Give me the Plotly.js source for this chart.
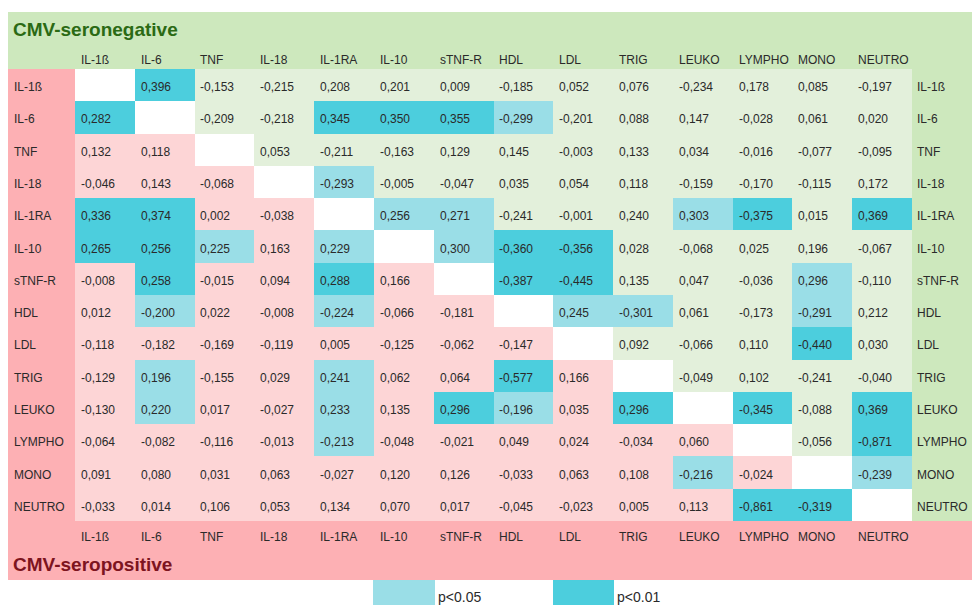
<!DOCTYPE html>
<html>
<head>
<meta charset="utf-8">
<script src="https://cdn.plot.ly/plotly-3.0.1.min.js"></script>
<style>html,body{margin:0;padding:0;background:#fff;}#chart{width:972px;height:605px;}</style>
</head>
<body>
<div id="chart"></div>
<script>
// ---- DATA ----
const labels = ["IL-1ß","IL-6","TNF","IL-18","IL-1RA","IL-10","sTNF-R","HDL","LDL","TRIG","LEUKO","LYMPHO","MONO","NEUTRO"];
// Correlation matrix: upper triangle = CMV-seronegative, lower triangle = CMV-seropositive (diagonal null)
const rowIL1b   = [null, 0.396,-0.153,-0.215, 0.208, 0.201, 0.009,-0.185, 0.052, 0.076,-0.234, 0.178, 0.085,-0.197];
const rowIL6    = [0.282, null,-0.209,-0.218, 0.345, 0.350, 0.355,-0.299,-0.201, 0.088, 0.147,-0.028, 0.061, 0.020];
const rowTNF    = [0.132, 0.118, null, 0.053,-0.211,-0.163, 0.129, 0.145,-0.003, 0.133, 0.034,-0.016,-0.077,-0.095];
const rowIL18   = [-0.046, 0.143,-0.068, null,-0.293,-0.005,-0.047, 0.035, 0.054, 0.118,-0.159,-0.170,-0.115, 0.172];
const rowIL1RA  = [0.336, 0.374, 0.002,-0.038, null, 0.256, 0.271,-0.241,-0.001, 0.240, 0.303,-0.375, 0.015, 0.369];
const rowIL10   = [0.265, 0.256, 0.225, 0.163, 0.229, null, 0.300,-0.360,-0.356, 0.028,-0.068, 0.025, 0.196,-0.067];
const rowSTNFR  = [-0.008, 0.258,-0.015, 0.094, 0.288, 0.166, null,-0.387,-0.445, 0.135, 0.047,-0.036, 0.296,-0.110];
const rowHDL    = [0.012,-0.200, 0.022,-0.008,-0.224,-0.066,-0.181, null, 0.245,-0.301, 0.061,-0.173,-0.291, 0.212];
const rowLDL    = [-0.118,-0.182,-0.169,-0.119, 0.005,-0.125,-0.062,-0.147, null, 0.092,-0.066, 0.110,-0.440, 0.030];
const rowTRIG   = [-0.129, 0.196,-0.155, 0.029, 0.241, 0.062, 0.064,-0.577, 0.166, null,-0.049, 0.102,-0.241,-0.040];
const rowLEUKO  = [-0.130, 0.220, 0.017,-0.027, 0.233, 0.135, 0.296,-0.196, 0.035, 0.296, null,-0.345,-0.088, 0.369];
const rowLYMPHO = [-0.064,-0.082,-0.116,-0.013,-0.213,-0.048,-0.021, 0.049, 0.024,-0.034, 0.060, null,-0.056,-0.871];
const rowMONO   = [0.091, 0.080, 0.031, 0.063,-0.027, 0.120, 0.126,-0.033, 0.063, 0.108,-0.216,-0.024, null,-0.239];
const rowNEUTRO = [-0.033, 0.014, 0.106, 0.053, 0.134, 0.070, 0.017,-0.045,-0.023, 0.005, 0.113,-0.861,-0.319, null];
const corr = [rowIL1b,rowIL6,rowTNF,rowIL18,rowIL1RA,rowIL10,rowSTNFR,rowHDL,rowLDL,rowTRIG,rowLEUKO,rowLYMPHO,rowMONO,rowNEUTRO];
// Significance: "0" none, "1" p<0.05, "2" p<0.01
const sig = [
  "02000000000000",
  "20002221000000",
  "00000000000000",
  "00001000000000",
  "22000110001202",
  "22101012200000",
  "02002002200010",
  "01001000110010",
  "00000000000020",
  "01001002000000",
  "01001021020202",
  "00001000000002",
  "00000000001001",
  "00000000000220"
];
const topTitle = "CMV-seronegative";
const bottomTitle = "CMV-seropositive";
const legendLabels = ["p<0.05","p<0.01"];

// ---- STYLE ----
const C = {
  band: "#cde8bd", upper: "#e3f0db", pinkBand: "#fdb0b4", lower: "#fdd5d6",
  sig1: "#9adee7", sig2: "#4ccedd", diag: "#ffffff",
  green: "#2b6a14", red: "#7d1420", text: "#2a2a2a"
};
const W = 972, H = 605;
const M = {l: 75, r: 60, t: 69, b: 84};
const pw = W - M.l - M.r, ph = H - M.t - M.b;
const px = x => (x - M.l) / pw;
const py = y => (H - M.b - y) / ph;
const FONT = "Liberation Sans, Arial, sans-serif";

// Colour codes: 0 diag, 1 upper, 2 lower, 3 p<0.05, 4 p<0.01
const z = corr.map((row, i) => row.map((v, j) => {
  if (i === j) return 0;
  const s = +sig[i][j];
  if (s === 2) return 4;
  if (s === 1) return 3;
  return j > i ? 1 : 2;
}));
const colorscale = [
  [0, C.diag],[0.125, C.diag],
  [0.125, C.upper],[0.375, C.upper],
  [0.375, C.lower],[0.625, C.lower],
  [0.625, C.sig1],[0.875, C.sig1],
  [0.875, C.sig2],[1, C.sig2]
];

const fmt = v => v.toFixed(3).replace(".", ",");

const annotations = [];
const cellShift = -26;
corr.forEach((row, i) => row.forEach((v, j) => {
  if (v === null) return;
  annotations.push({x: labels[j], y: labels[i], xref: "x", yref: "y", text: fmt(v),
    showarrow: false, xanchor: "left", yanchor: "middle", xshift: cellShift, yshift: -2,
    font: {family: FONT, size: 12, color: C.text}});
}));
labels.forEach((lab, k) => {
  annotations.push({x: lab, y: py(60), xref: "x", yref: "paper", text: lab, showarrow: false,
    xanchor: "left", yanchor: "middle", xshift: cellShift, font: {family: FONT, size: 12, color: C.text}});
  annotations.push({x: lab, y: py(537), xref: "x", yref: "paper", text: lab, showarrow: false,
    xanchor: "left", yanchor: "middle", xshift: cellShift, font: {family: FONT, size: 12, color: C.text}});
  annotations.push({x: px(12), y: lab, xref: "paper", yref: "y", text: lab, showarrow: false,
    xanchor: "left", yanchor: "middle", yshift: -2, font: {family: FONT, size: 12, color: C.text}});
  annotations.push({x: px(915), y: lab, xref: "paper", yref: "y", text: lab, showarrow: false,
    xanchor: "left", yanchor: "middle", yshift: -2, font: {family: FONT, size: 12, color: C.text}});
});
annotations.push({x: px(11), y: py(29), xref: "paper", yref: "paper", text: "<b>" + topTitle + "</b>",
  showarrow: false, xanchor: "left", yanchor: "middle", font: {family: FONT, size: 19, color: C.green}});
annotations.push({x: px(11), y: py(564), xref: "paper", yref: "paper", text: "<b>" + bottomTitle + "</b>",
  showarrow: false, xanchor: "left", yanchor: "middle", font: {family: FONT, size: 19, color: C.red}});
annotations.push({x: px(436), y: py(597), xref: "paper", yref: "paper", text: legendLabels[0],
  showarrow: false, xanchor: "left", yanchor: "middle", font: {family: FONT, size: 14, color: C.text}});
annotations.push({x: px(615), y: py(597), xref: "paper", yref: "paper", text: legendLabels[1],
  showarrow: false, xanchor: "left", yanchor: "middle", font: {family: FONT, size: 14, color: C.text}});

const rect = (x0, y0, x1, y1, color) => ({type: "rect", xref: "paper", yref: "paper", layer: "below",
  x0: px(x0), x1: px(x1), y0: py(y1), y1: py(y0), fillcolor: color, line: {width: 0}});
const shapes = [
  rect(8, 12, 972, 522, C.band),
  rect(8, 69, M.l, 580, C.pinkBand),
  rect(8, 521, 972, 580, C.pinkBand),
  rect(373, 580, 435, 605, C.sig1),
  rect(553, 580, 614, 605, C.sig2)
];

const trace = {
  type: "heatmap", x: labels, y: labels, z: z, zmin: 0, zmax: 4,
  colorscale: colorscale, showscale: false, xgap: 0, ygap: 0,
  customdata: corr, hovertemplate: "%{y} / %{x}: %{customdata}<extra></extra>"
};

const layout = {
  width: W, height: H, margin: M, paper_bgcolor: "#ffffff", plot_bgcolor: "rgba(0,0,0,0)",
  showlegend: false,
  xaxis: {type: "category", showticklabels: false, showgrid: false, zeroline: false, ticks: "", fixedrange: true},
  yaxis: {type: "category", autorange: "reversed", showticklabels: false, showgrid: false, zeroline: false, ticks: "", fixedrange: true},
  shapes: shapes, annotations: annotations,
  font: {family: FONT}
};
Plotly.newPlot("chart", [trace], layout, {displayModeBar: false, staticPlot: true});
</script>
</body>
</html>
